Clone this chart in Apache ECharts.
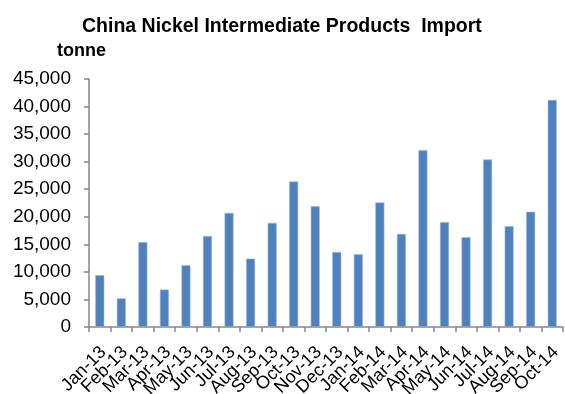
<!DOCTYPE html>
<html>
<head>
<meta charset="utf-8">
<script src="https://cdn.jsdelivr.net/npm/echarts@6/dist/echarts.min.js"></script>
<style>
  html, body { margin: 0; padding: 0; background: #fff; }
  #chart { width: 565px; height: 394px; }
</style>
</head>
<body>
<div id="chart"></div>
<script>
// Monthly import volumes, tonnes
const months = ['Jan-13','Feb-13','Mar-13','Apr-13','May-13','Jun-13','Jul-13','Aug-13','Sep-13','Oct-13','Nov-13',
                'Dec-13','Jan-14','Feb-14','Mar-14','Apr-14','May-14','Jun-14','Jul-14','Aug-14','Sep-14','Oct-14'];
const imports = [9400, 5200, 15400, 6800, 11200, 16500, 20700, 12400, 18900, 26400, 21900,
                 13600, 13200, 22600, 16900, 32100, 19000, 16300, 30400, 18300, 20900, 41200];
const yTicks = { min: 0, max: 45000, step: 5000 };

const chart = echarts.init(document.getElementById('chart'), null, { renderer: 'canvas' });
const axisGray = '#868686';
const font = 'Liberation Sans, Arial, sans-serif';

chart.setOption({
  animation: false,
  backgroundColor: '#ffffff',
  title: [
    {
      text: 'China Nickel Intermediate Products  Import',
      left: 77, top: 12,
      textStyle: { fontFamily: font, fontSize: 19.5, fontWeight: 'bold', color: '#000' }
    },
    {
      text: 'tonne',
      left: 52, top: 37,
      textStyle: { fontFamily: font, fontSize: 18, fontWeight: 'bold', color: '#000' }
    }
  ],
  grid: { left: 89, right: 2, top: 79, bottom: 67, containLabel: false, outerBoundsMode: 'none' },
  xAxis: {
    type: 'category',
    data: months,
    boundaryGap: true,
    axisLine: { show: true, lineStyle: { color: axisGray, width: 1.5 } },
    axisTick: { show: true, alignWithLabel: false, length: 5, lineStyle: { color: axisGray, width: 1.5 } },
    axisLabel: {
      interval: 0, rotate: 45, margin: 26,
      padding: [0, -5, 0, 0],
      fontFamily: font, fontSize: 18, color: '#000'
    },
    splitLine: { show: false }
  },
  yAxis: {
    type: 'value',
    min: yTicks.min, max: yTicks.max, interval: yTicks.step,
    axisLine: { show: true, lineStyle: { color: axisGray, width: 1.5 } },
    axisTick: { show: true, length: 5, lineStyle: { color: axisGray, width: 1.5 } },
    axisLabel: {
      margin: 18,
      fontFamily: font, fontSize: 19, color: '#000',
      formatter: v => v.toLocaleString('en-US')
    },
    splitLine: { show: false }
  },
  series: [{
    type: 'bar',
    data: imports,
    barWidth: 9,
    itemStyle: { color: '#4F81BD', borderColor: '#9DB7DB', borderWidth: 0.6 }
  }]
});
</script>
</body>
</html>
